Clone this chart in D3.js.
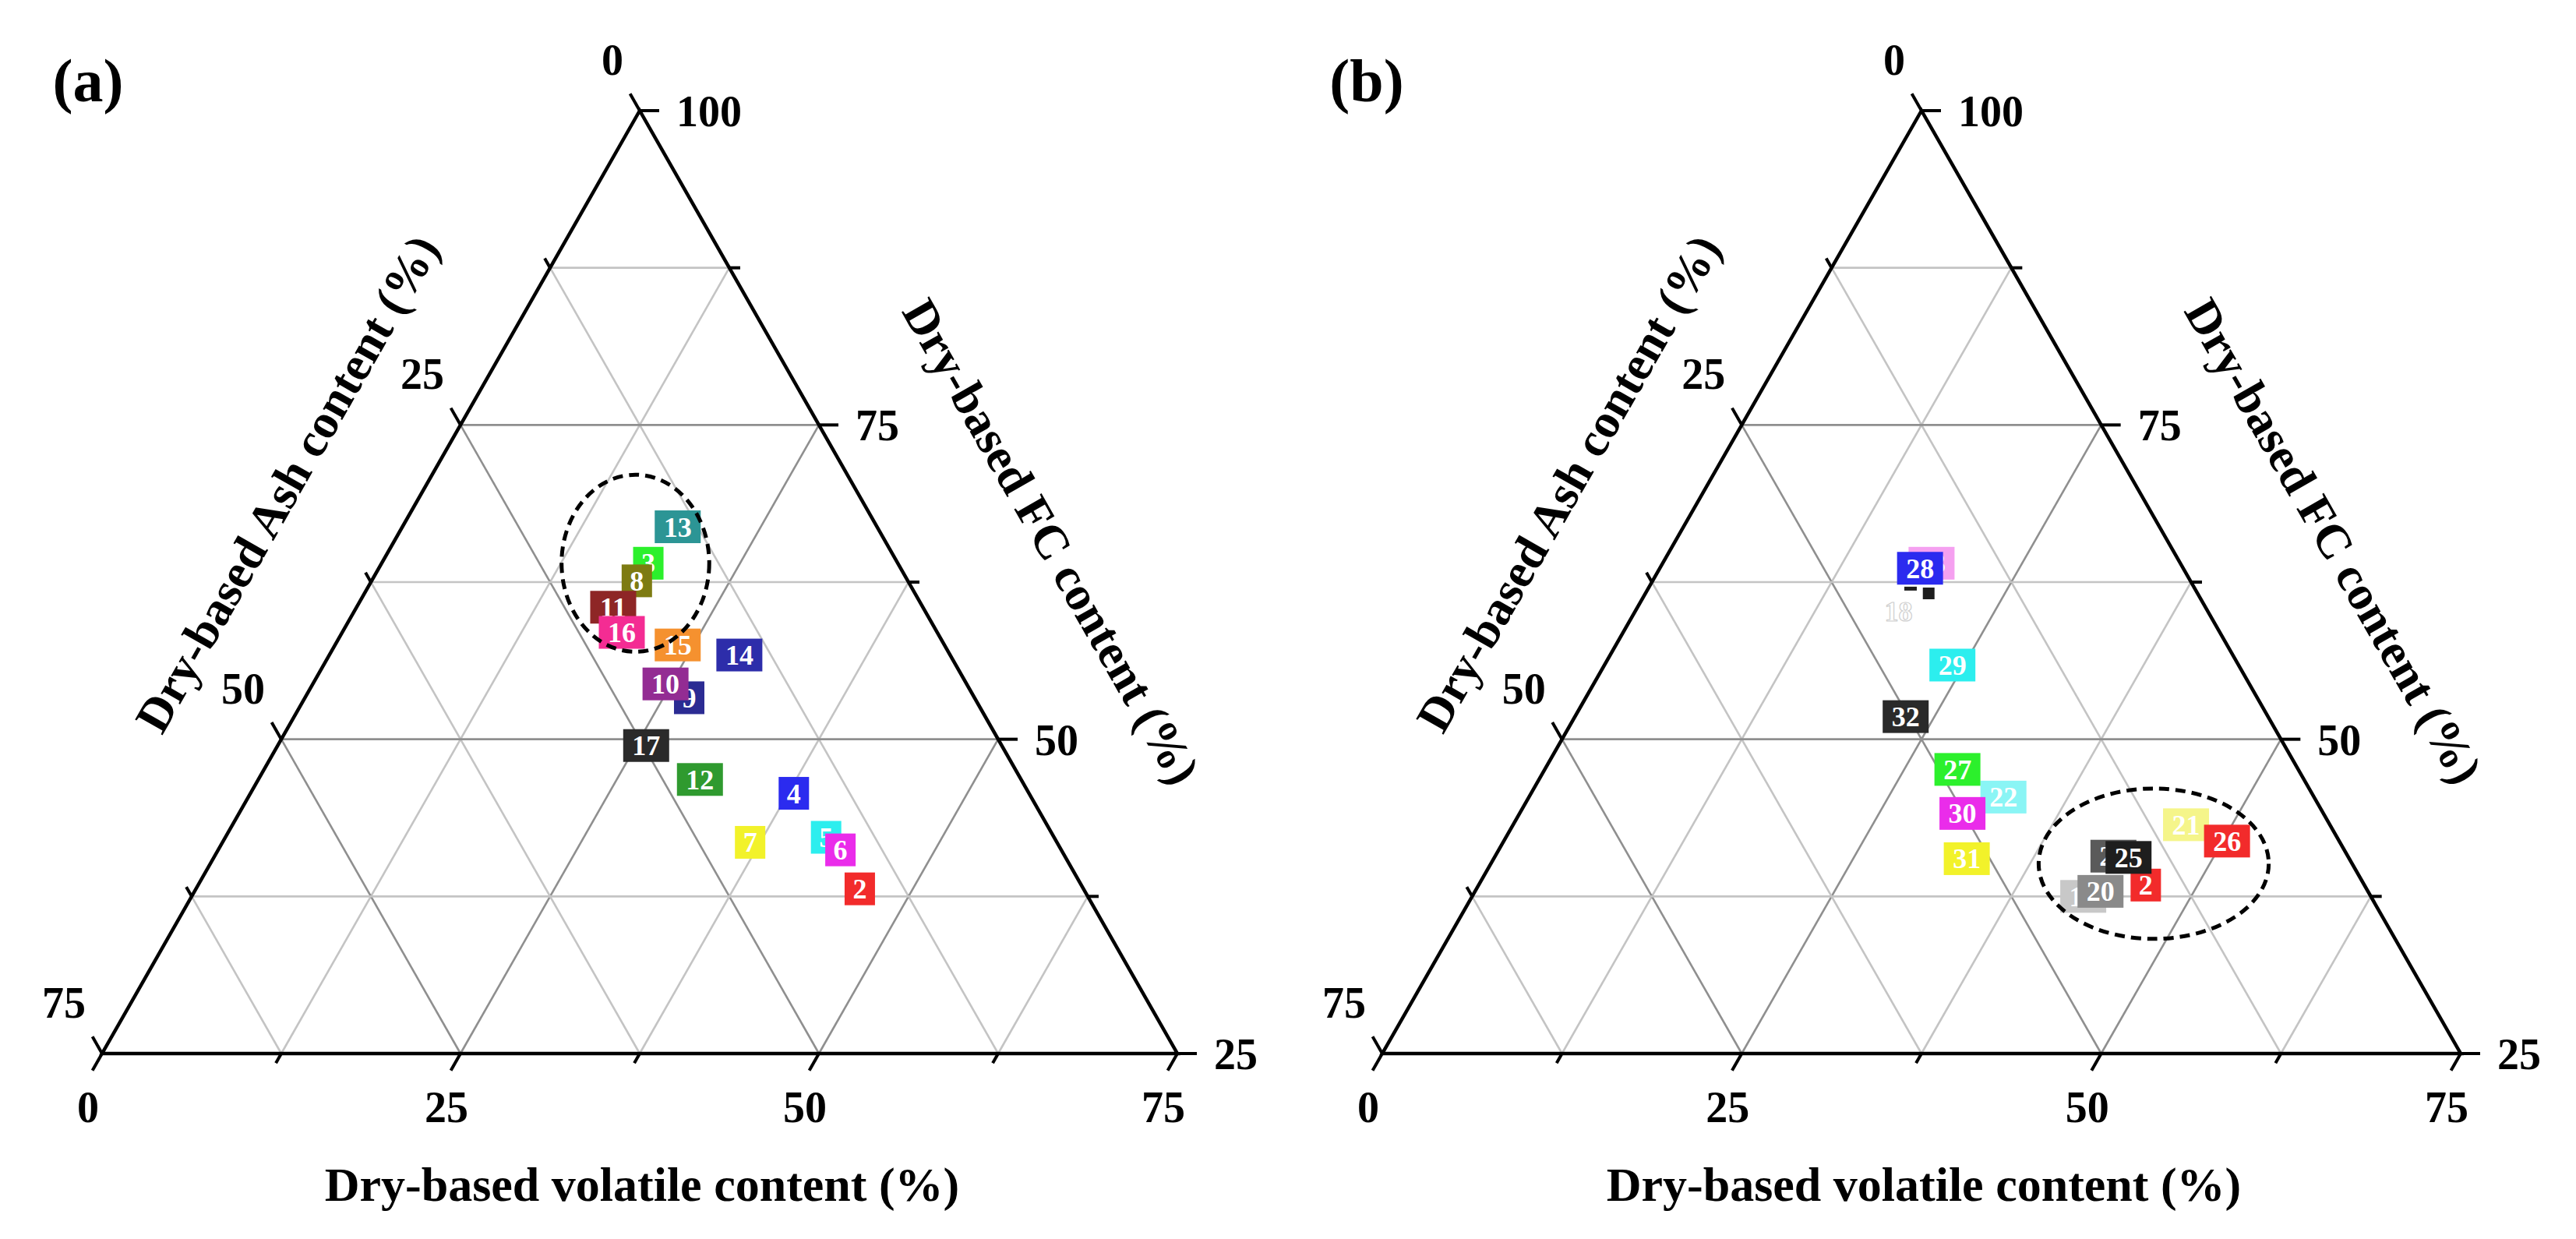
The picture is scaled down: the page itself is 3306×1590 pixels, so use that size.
<!DOCTYPE html>
<html><head><meta charset="utf-8">
<script src="https://cdn.jsdelivr.net/npm/d3@7/dist/d3.min.js"></script>
<style>html,body{margin:0;padding:0;background:#fff}</style>
</head><body>
<svg id="chart" width="3306" height="1590"></svg>
<script>
// ---------------- data ----------------
// Panel (a) samples: dry-based volatile, ash, fixed-carbon contents (%)
const labelsA = ["2","3","4","5","6","7","8","9","10","11","12","13","14","15","16","17"];
const volA    = [46.3,18.6,37.9,41.9,43.4,36.8,18.5,26.8,24.6,17.9,30.8,19.2,28.6,23.9,19.5,25.7];
const ashA    = [15.6,17.4,16.4,15.9,15.4,21.4,18.9,19.9,21.0,21.6,22.4,13.9,14.7,18.6,22.0,24.8];
const fcA     = [38.1,64.0,45.7,42.2,41.2,41.8,62.6,53.3,54.4,60.5,46.8,66.9,56.7,57.5,58.5,49.5];

// Panel (b) samples
const labelsB = ["18","19","20","21","22","23","24","2","25","26","27","28","29","30","31","32"];
const volB    = [18.3,42.5,43.5,46.8,33.0,18.7,43.0,46.4,44.1,50.3,28.7,18.1,24.2,30.8,32.9,23.0];
const ashB    = [21.5,20.0,18.6,10.0,21.6,17.3,16.3,15.2,15.3, 7.8,23.7,18.3,19.9,25.1,26.6,25.2];
const fcB     = [60.2,37.5,37.9,43.2,45.4,64.0,40.7,38.4,40.6,41.9,47.6,63.6,55.9,44.1,40.5,51.8];
// small unlabeled fragments near sample 28 in panel (b)
const fragVolB = [19.7,18.25];
const fragAshB = [18.7,19.77];

// dashed ellipse annotations: centre (vol, ash) and radii (vol-ash units, vol+ash units)
const ellipseA = {vol:17.7, ash:18.3, rDiff:10.3, rSum:7.04};
const ellipseB = {vol:46.1, ash:13.8, rDiff:16.0, rSum:5.98};

// axes
const gridValues   = [12.5,25,37.5,50,62.5];
const tickValues   = [0,12.5,25,37.5,50,62.5,75];
const ashTickLabels = [0,25,50,75];
const fcTickLabels  = [100,75,50,25];
const volTickLabels = [0,25,50,75];
const titleVol = "Dry-based volatile content (%)";
const titleAsh = "Dry-based Ash content (%)";
const titleFC  = "Dry-based FC content (%)";

// ---------------- styles ----------------
const colorsA = ["#f22b2b","#2cf02c","#2b2bef","#2ceeee","#ea2cea","#f2f22a","#7d7b12","#2b2b93",
                 "#932c93","#8e2626","#2f9a2f","#2c9595","#2d2daa","#f5912f","#f42c93","#2a2a2a"];
const colorsB = ["#ffffff","#c8c8c8","#8a8a8a","#f5f58a","#8af5f5","#f5a0f0","#5a5a5a","#f22b2b",
                 "#1e1e1e","#f22b2b","#2cf02c","#2b2bef","#2ceeee","#ea2cea","#f2f22a","#2a2a2a"];

const FONT = "'Liberation Serif','Times New Roman',Times,serif";
const svg = d3.select("#chart");
svg.append("rect").attr("width",3306).attr("height",1590).attr("fill","#fff");

function drawPanel(cfg, pts, ellipse, frags) {
  const g = svg.append("g");
  const sy = d3.scaleLinear().domain([0,75]).range([cfg.apexY, cfg.baseY]);          // vol+ash
  const sx = d3.scaleLinear().domain([-75,75]).range([cfg.apexX-cfg.halfW, cfg.apexX+cfg.halfW]); // vol-ash
  const P = (vol, ash) => [sx(vol-ash), sy(vol+ash)];
  const line = d3.line();

  // grid
  const gridLines = [];
  gridValues.forEach(v => {
    const major = v % 25 === 0;
    gridLines.push({p:[P(0,v),P(v,0)], major});
    gridLines.push({p:[P(0,v),P(75-v,v)], major});
    gridLines.push({p:[P(v,0),P(v,75-v)], major});
  });
  g.selectAll("path.grid").data(gridLines).join("path")
    .attr("d", d => line(d.p)).attr("fill","none")
    .attr("stroke", d => d.major ? "#8f8f8f" : "#c4c4c4")
    .attr("stroke-width", 2.6);

  // triangle
  const A = P(0,0), L = P(0,75), R = P(75,0);
  g.append("path").attr("d", line([A,L,R]) + "Z").attr("fill","none")
    .attr("stroke","#000").attr("stroke-width",4.5).attr("stroke-linejoin","miter");

  // tick directions
  const norm = v => { const n = Math.hypot(v[0],v[1]); return [v[0]/n, v[1]/n]; };
  const dirLeft = norm([A[0]-R[0], A[1]-R[1]]);   // up-left
  const dirBottom = norm([L[0]-A[0], L[1]-A[1]]); // down-left
  const dirRight = [1,0];
  const ticks = [];
  tickValues.forEach(v => {
    const len = v % 25 === 0 ? 25 : 14;
    ticks.push({o:P(0,v), d:dirLeft, len});
    ticks.push({o:P(75-v,0), d:dirRight, len});   // FC = 25 + v
    ticks.push({o:P(v,75-v), d:dirBottom, len});
  });
  g.selectAll("path.tick").data(ticks).join("path")
    .attr("d", t => line([t.o, [t.o[0]+t.d[0]*t.len, t.o[1]+t.d[1]*t.len]]))
    .attr("stroke","#000").attr("stroke-width",4);

  const lab = (x,y,txt,anchor,size) => g.append("text").attr("x",x).attr("y",y)
    .attr("text-anchor",anchor).attr("font-family",FONT).attr("font-weight","bold")
    .attr("font-size",size).attr("fill","#000").text(txt);

  ashTickLabels.forEach(a => { const p = P(0,a); lab(p[0]-21, p[1]-46, a, "end", 56); });
  fcTickLabels.forEach(f => { const p = P(100-f,0); lab(p[0]+47, p[1]+20, f, "start", 56); });
  volTickLabels.forEach(v => { const p = P(v,75-v); lab(p[0]-18, p[1]+88, v, "middle", 56); });

  // axis titles
  lab(cfg.apexX+3, cfg.baseY+189, titleVol, "middle", 62);
  const edgeLen = Math.hypot(L[0]-A[0], L[1]-A[1]);
  const angL = Math.atan2(A[1]-L[1], A[0]-L[0]) * 180/Math.PI; // text reading upward
  {
    const t = 640/edgeLen, n = [-dirBottom[1]*-1, 0];
    const ex = A[0] + t*(L[0]-A[0]), ey = A[1] + t*(L[1]-A[1]);
    const nrm = norm([-(L[1]-A[1]), (L[0]-A[0])]); // perpendicular
    const out = nrm[0] < 0 ? nrm : [-nrm[0],-nrm[1]];
    const cx = ex + out[0]*156, cy = ey + out[1]*156;
    g.append("text").attr("transform",`translate(${cx},${cy}) rotate(${angL})`)
      .attr("text-anchor","middle").attr("dominant-baseline","central")
      .attr("font-family",FONT).attr("font-weight","bold").attr("font-size",62).text(titleAsh);
  }
  {
    const t = 742/edgeLen;
    const ex = A[0] + t*(R[0]-A[0]), ey = A[1] + t*(R[1]-A[1]);
    const nrm = norm([-(R[1]-A[1]), (R[0]-A[0])]);
    const out = nrm[0] > 0 ? nrm : [-nrm[0],-nrm[1]];
    const cx = ex + out[0]*185, cy = ey + out[1]*185;
    const ang = Math.atan2(R[1]-A[1], R[0]-A[0]) * 180/Math.PI;
    g.append("text").attr("transform",`translate(${cx},${cy}) rotate(${ang})`)
      .attr("text-anchor","middle").attr("dominant-baseline","central")
      .attr("font-family",FONT).attr("font-weight","bold").attr("font-size",62).text(titleFC);
  }
  // the "0" label at apex for ash axis is included in ashTickLabels; panel letter
  lab(cfg.letterX, 130, cfg.letter, "middle", 78);

  // fragments
  if (frags) {
    g.selectAll("rect.frag").data(frags).join("rect")
      .attr("x", (d,i) => P(d.vol,d.ash)[0] - (i===0 ? 7.5 : 8))
      .attr("y", (d,i) => P(d.vol,d.ash)[1] - (i===0 ? 7.5 : 2.5))
      .attr("width", (d,i) => i===0 ? 15 : 16).attr("height", (d,i) => i===0 ? 15 : 5)
      .attr("fill", "#1e1e1e");
  }

  // labelled sample boxes
  const nodes = g.selectAll("g.pt").data(pts).join("g")
    .attr("transform", d => { const s = d.vol+d.ash+d.fc; const p = P(d.vol*100/s, d.ash*100/s); return `translate(${p[0]},${p[1]})`; });
  nodes.each(function(d) {
    const el = d3.select(this);
    const w = d.label.length > 1 ? 59 : 39;
    el.append("rect").attr("x",-w/2).attr("y",-21).attr("width",w).attr("height",42).attr("fill",d.color);
    const t = el.append("text").attr("x",0).attr("y",12.5).attr("text-anchor","middle")
      .attr("font-family",FONT).attr("font-weight","bold").attr("font-size",36)
      .attr("fill","#fff").text(d.label);
    if (d.color === "#ffffff") t.attr("stroke","#cfcfcf").attr("stroke-width",1.2);
  });

  // dashed ellipse
  const ec = P(ellipse.vol, ellipse.ash);
  g.append("ellipse").attr("cx",ec[0]).attr("cy",ec[1])
    .attr("rx", sx(ellipse.rDiff) - sx(0)).attr("ry", sy(ellipse.rSum) - sy(0))
    .attr("fill","none").attr("stroke","#000").attr("stroke-width",5)
    .attr("stroke-dasharray","13,8");
}

const ptsA = labelsA.map((l,i) => ({label:l, vol:volA[i], ash:ashA[i], fc:fcA[i], color:colorsA[i]}));
const ptsB = labelsB.map((l,i) => ({label:l, vol:volB[i], ash:ashB[i], fc:fcB[i], color:colorsB[i]}));
const fragsB = fragVolB.map((v,i) => ({vol:v, ash:fragAshB[i]}));

drawPanel({apexX:821, apexY:142, baseY:1352, halfW:690, letter:"(a)", letterX:113}, ptsA, ellipseA, null);
drawPanel({apexX:2466, apexY:142, baseY:1352, halfW:692, letter:"(b)", letterX:1754}, ptsB, ellipseB, fragsB);
</script>
</body></html>
